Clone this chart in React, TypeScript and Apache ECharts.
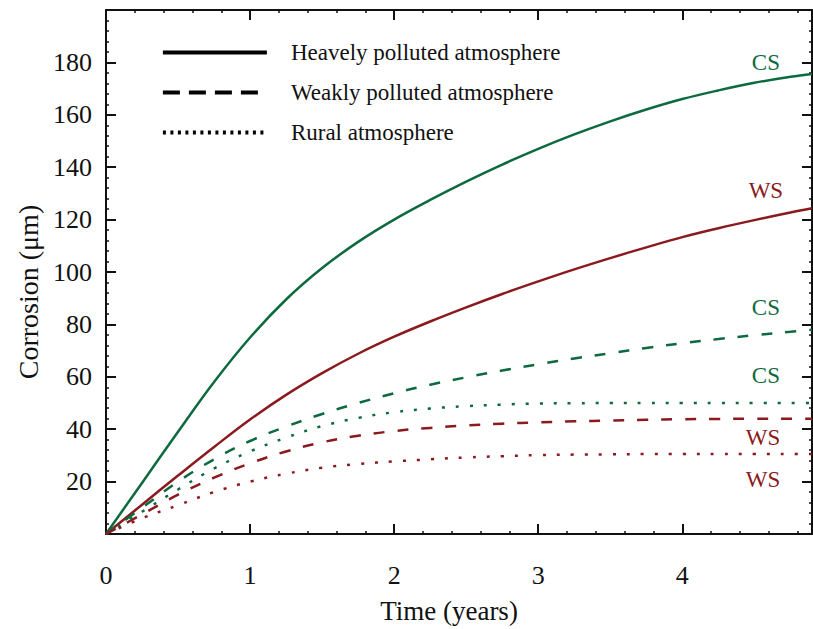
import React, { useEffect, useRef } from "react";
import * as echarts from "echarts";

// Time (years)
const years = [0, 0.25, 0.5, 0.75, 1, 1.25, 1.5, 1.75, 2, 2.25, 2.5, 2.75, 3, 3.25, 3.5, 3.75, 4, 4.25, 4.5, 4.75, 4.9];
// Corrosion (µm)
const heavyCS = [0, 19.5, 39, 58, 75, 89.5, 101.5, 111.5, 120, 127.5, 134.5, 141, 147, 152.5, 157.5, 162, 166, 169.3, 172.2, 174.5, 175.6];
const heavyWS = [0, 11.2, 22.3, 33.2, 43.7, 53.1, 61.4, 68.8, 75.3, 81.1, 86.5, 91.6, 96.4, 101, 105.3, 109.4, 113.3, 116.7, 119.8, 122.7, 124.3];
const weakCS = [0, 10, 20, 28.5, 35.5, 41, 45.8, 50, 53.7, 57, 59.8, 62.4, 64.8, 67, 69, 71, 72.8, 74.4, 75.9, 77.2, 78];
const weakWS = [0, 7.5, 15, 21.5, 27, 31.5, 35, 37.5, 39.3, 40.5, 41.4, 42.1, 42.6, 43, 43.3, 43.6, 43.8, 43.9, 44, 44, 44];
const ruralCS = [0, 8.5, 17, 25, 31.5, 36.8, 41.2, 44.3, 46.5, 47.9, 48.8, 49.4, 49.8, 49.9, 50, 50, 50, 50, 50, 50, 50];
const ruralWS = [0, 6, 11, 16, 20, 23, 25.3, 26.7, 27.7, 28.5, 29.2, 29.7, 30.1, 30.3, 30.4, 30.5, 30.5, 30.5, 30.5, 30.5, 30.5];

const legendNames = ["Heavely polluted atmosphere", "Weakly polluted atmosphere", "Rural atmosphere"];

// curve annotations
const labelTexts = ["CS", "WS", "CS", "CS", "WS", "WS"];
const labelX = [4.58, 4.58, 4.58, 4.58, 4.56, 4.56];
const labelY = [180, 131, 86.3, 60.5, 36.9, 20.9];
const labelKind = ["cs", "ws", "cs", "cs", "ws", "ws"];

const GREEN = "#0d6a3e";
const RED = "#8a1a1d";
const FONT = "'Liberation Serif', 'DejaVu Serif', serif";

const pairs = (vals: number[]) => years.map((t, i) => [t, vals[i]]);

export default function App() {
  const ref = useRef<HTMLDivElement>(null);
  useEffect(() => {
    const chart = echarts.init(ref.current!, null, { renderer: "svg" });
    const axisCommon = {
      type: "value" as const,
      axisLine: { show: true, onZero: false, lineStyle: { color: "#111", width: 2 } },
      axisTick: { show: true, inside: true, length: 10, lineStyle: { color: "#111", width: 2 } },
      minorTick: { show: true, splitNumber: 5, length: 3, lineStyle: { color: "#111", width: 1.5 } },
      splitLine: { show: false },
    };
    const curve = (name: string, vals: number[], color: string, type: any) => ({
      type: "line",
      name,
      data: pairs(vals),
      smooth: 0.4,
      symbol: "none",
      lineStyle: { color, width: 2.5, type },
      z: 3,
    });
    const legendDummy = (name: string) => ({
      type: "line",
      name,
      data: [],
      symbol: "none",
      itemStyle: { color: "#000" },
      lineStyle: { color: "#000", width: 3.5 },
    });
    const legendTypes: any[] = ["solid", [17, 9], [3, 4.5]];
    chart.setOption({
      animation: false,
      backgroundColor: "#fff",
      textStyle: { fontFamily: FONT },
      grid: { left: 106, top: 10, right: 1, bottom: 92 },
      legend: {
        data: legendNames.map((n, i) => ({
          name: n,
          itemStyle: { opacity: 0 },
          lineStyle: { color: "#000", width: 3.8, type: legendTypes[i] },
        })),
        orient: "vertical",
        left: 156,
        top: 36,
        itemWidth: 104,
        itemHeight: 14,
        itemGap: 17,
        selectedMode: false,
        textStyle: { fontFamily: FONT, fontSize: 23, color: "#111", padding: [0, 0, 0, 19] },
      },
      xAxis: [
        {
          ...axisCommon,
          min: 0,
          max: 4.9,
          interval: 1,
          position: "bottom",
          name: "Time (years)",
          nameLocation: "middle",
          nameGap: 63,
          nameTextStyle: { fontFamily: FONT, fontSize: 27, color: "#111", padding: [0, 20, 0, 0] },
          axisLabel: { fontFamily: FONT, fontSize: 26, color: "#111", margin: 28, showMaxLabel: false },
        },
        {
          ...axisCommon,
          min: 0,
          max: 4.9,
          interval: 1,
          position: "top",
          axisLabel: { show: false },
        },
      ],
      yAxis: [
        {
          ...axisCommon,
          min: 0,
          max: 200,
          interval: 20,
          position: "left",
          name: "Corrosion (μm)",
          nameLocation: "middle",
          nameGap: 63,
          nameTextStyle: { fontFamily: FONT, fontSize: 28, color: "#111", padding: [0, 40, 0, 0] },
          axisLabel: { fontFamily: FONT, fontSize: 26, color: "#111", margin: 14, showMinLabel: false, showMaxLabel: false },
        },
        {
          ...axisCommon,
          min: 0,
          max: 200,
          interval: 20,
          position: "right",
          axisLabel: { show: false },
        },
      ],
      series: [
        ...legendNames.map((n) => legendDummy(n)),
        curve("heavyCS", heavyCS, GREEN, "solid"),
        curve("heavyWS", heavyWS, RED, "solid"),
        curve("weakCS", weakCS, GREEN, [11, 13]),
        curve("weakWS", weakWS, RED, [11, 13]),
        curve("ruralCS", ruralCS, GREEN, [3, 11]),
        curve("ruralWS", ruralWS, RED, [3, 11]),
        {
          type: "scatter",
          name: "labels",
          symbol: "circle",
          symbolSize: 0,
          z: 5,
          data: labelTexts.map((t, i) => {
            const c = labelKind[i] === "cs" ? GREEN : RED;
            return {
              value: [labelX[i], labelY[i]],
              itemStyle: { color: c, opacity: 1 },
              label: {
                show: true,
                position: "inside",
                formatter: t,
                fontFamily: FONT,
                fontSize: 23,
                color: c,
                opacity: 1,
                textBorderWidth: 0,
                textShadowBlur: 0,
              },
            };
          }),
        },
      ],
    });
    return () => chart.dispose();
  }, []);
  return (
    <div
      ref={ref}
      style={{ position: "fixed", left: 0, top: 0, width: 813, height: 629, background: "#fff" }}
    />
  );
}
